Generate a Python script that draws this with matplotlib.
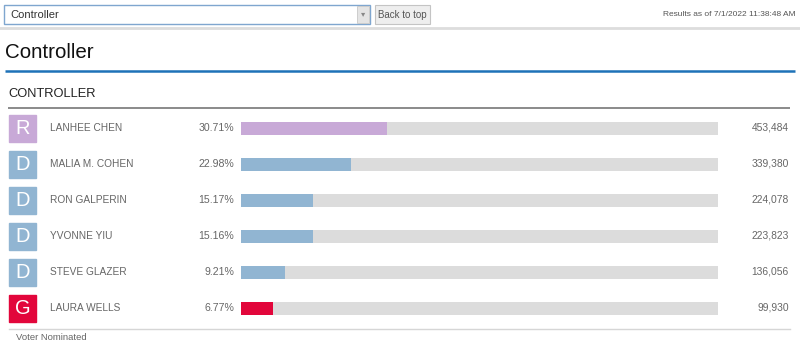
import matplotlib
matplotlib.use('Agg')
import matplotlib.pyplot as plt
from matplotlib.patches import Rectangle

plt.rcParams['font.family'] = ['Liberation Sans', 'DejaVu Sans']

names = ['LANHEE CHEN', 'MALIA M. COHEN', 'RON GALPERIN', 'YVONNE YIU',
         'STEVE GLAZER', 'LAURA WELLS']
parties = ['R', 'D', 'D', 'D', 'D', 'G']
pcts = [30.71, 22.98, 15.17, 15.16, 9.21, 6.77]
votes = [453484, 339380, 224078, 223823, 136056, 99930]
party_colors = {'R': '#c8a9d7', 'D': '#91b5d2', 'G': '#e2063b'}

W, H = 800, 350
fig = plt.figure(figsize=(W / 100, H / 100), dpi=100)
page = fig.add_axes([0, 0, 1, 1])
page.set_xlim(0, W); page.set_ylim(H, 0); page.axis('off')

# ---- header strip ----------------------------------------------------------
page.plot([0, W], [28, 28], color='#dddddd', lw=2)
page.add_patch(Rectangle((4, 5), 366, 19, fc='white', ec='#7fa6cf', lw=1))
page.add_patch(Rectangle((357, 6), 12, 17, fc='#e4e4e4', ec='#c8c8c8', lw=0.6))
page.text(363, 15, '▾', ha='center', va='center', fontsize=6, color='#888888')
page.text(10, 15, 'Controller', ha='left', va='center', fontsize=8, color='#333333')
page.add_patch(Rectangle((375, 5), 55, 19, fc='#eeeeee', ec='#c4c4c4', lw=0.8))
page.text(402.5, 14.5, 'Back to top', ha='center', va='center', fontsize=7, color='#555555')
page.text(796, 15, 'Results as of 7/1/2022 11:38:48 AM', ha='right', va='center',
          fontsize=6.0, color='#555555')

# ---- titles ----------------------------------------------------------------
page.text(5, 53, 'Controller', ha='left', va='center', fontsize=14.8, color='#111111')
page.plot([5, 795], [70.5, 70.5], color='#1e72b8', lw=1.8, solid_capstyle='butt')
page.text(8, 94, 'CONTROLLER', ha='left', va='center', fontsize=9.3, color='#222222')
page.plot([8, 790], [107.5, 107.5], color='#777777', lw=1.2, solid_capstyle='butt')

# ---- candidate rows --------------------------------------------------------
row_y = [128 + 36 * i for i in range(len(names))]
for y, name, party, pct, v in zip(row_y, names, parties, pcts, votes):
    page.add_patch(Rectangle((9, y - 13.5), 27, 27, color=party_colors[party]))
    page.text(22.5, y + 0.5, party, ha='center', va='center', fontsize=14.5, color='white')
    page.text(50, y, name, ha='left', va='center', fontsize=7.3, color='#666666')
    page.text(234, y, f'{pct:.2f}%', ha='right', va='center', fontsize=7.6, color='#666666')
    page.text(789, y, f'{v:,}', ha='right', va='center', fontsize=7.4, color='#666666')

bars = fig.add_axes([241 / W, 0, 477 / W, 1])
bars.set_xlim(0, 100); bars.set_ylim(H, 0); bars.axis('off')
bars.barh(row_y, [100] * len(names), height=13, color='#dcdcdc', left=0)
bars.barh(row_y, pcts, height=13, color=[party_colors[p] for p in parties], left=0)

# ---- footer ----------------------------------------------------------------
page.plot([9, 790], [328.5, 328.5], color='#d6d6d6', lw=1)
page.text(16, 338, 'Voter Nominated', ha='left', va='center', fontsize=6.8, color='#666666')

fig.savefig('out.png', dpi=100)
